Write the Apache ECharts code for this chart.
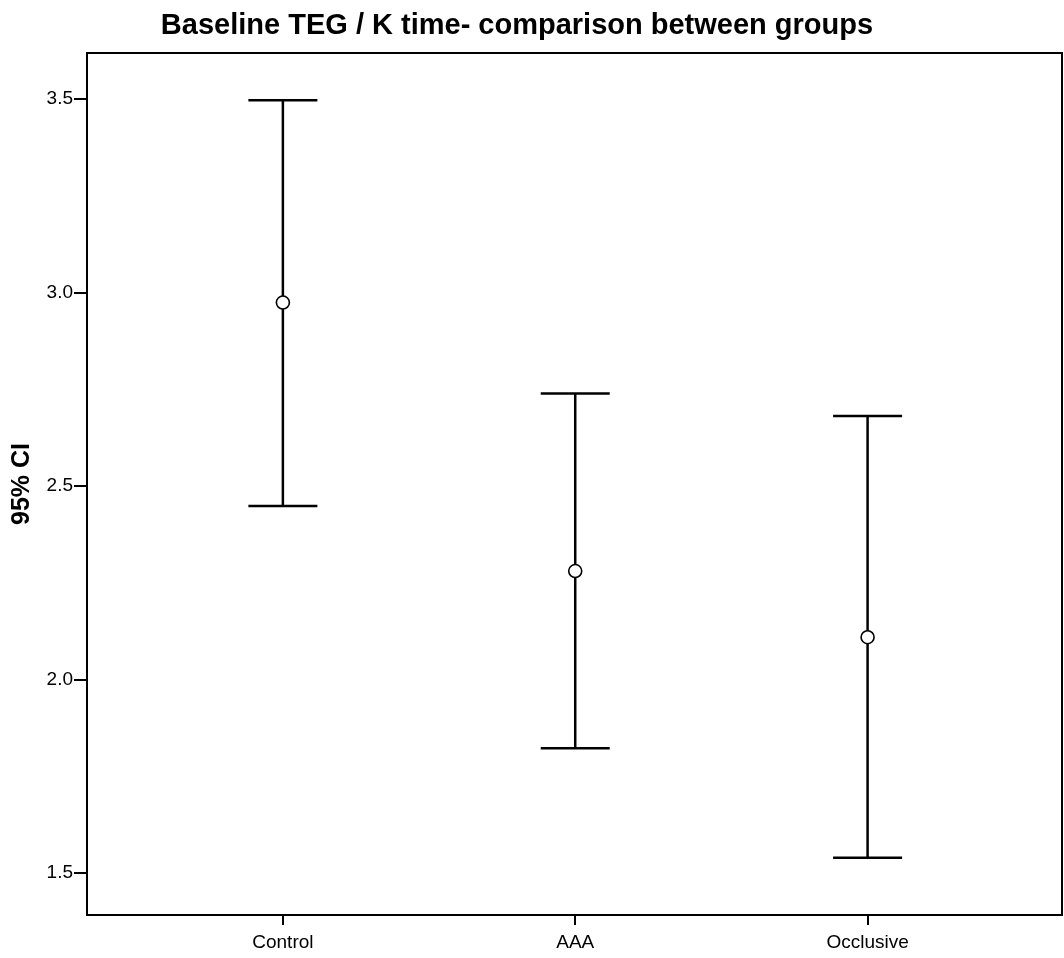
<!DOCTYPE html>
<html>
<head>
<meta charset="utf-8">
<script src="https://cdn.jsdelivr.net/npm/echarts@6/dist/echarts.min.js"></script>
<style>html,body{margin:0;padding:0;background:#fff}#c{width:1064px;height:958px}</style>
</head>
<body>
<div id="c"></div>
<script>
const categories = ['Control', 'AAA', 'Occlusive'];
const means = [2.974, 2.280, 2.109];
const lower = [2.448, 1.822, 1.539];
const upper = [3.497, 2.739, 2.681];
const yTicks = [1.5, 2.0, 2.5, 3.0, 3.5];

const chart = echarts.init(document.getElementById('c'));
const positions = categories.map((c, i) => i + 1);
const barData = categories.map((c, i) => [positions[i], lower[i], upper[i]]);
const meanData = categories.map((c, i) => [positions[i], means[i]]);
const font = 'Liberation Sans, Arial, sans-serif';

chart.setOption({
  animation: false,
  backgroundColor: '#fff',
  title: {
    text: 'Baseline TEG / K time- comparison between groups',
    left: 512, top: 6, textAlign: 'center',
    textStyle: { fontFamily: font, fontSize: 29, fontWeight: 'bold', color: '#000' }
  },
  grid: { left: 87, right: 2, top: 53, bottom: 43, show: true, borderColor: '#000', borderWidth: 2, backgroundColor: 'transparent' },
  xAxis: {
    type: 'value', min: 0.33, max: 3.665,
    splitLine: { show: false },
    axisLine: { show: true, lineStyle: { color: '#000', width: 2 } },
    axisTick: { show: true, inside: false, length: 10, lineStyle: { color: '#000', width: 2 }, customValues: positions },
    axisLabel: { customValues: positions, formatter: v => categories[Math.round(v) - 1] || '', fontFamily: font, fontSize: 19, color: '#000', margin: 18 }
  },
  yAxis: {
    type: 'value', min: 1.391, max: 3.619,
    name: '95% CI', nameLocation: 'middle', nameGap: 52,
    nameTextStyle: { fontFamily: font, fontSize: 25, fontWeight: 'bold', color: '#000' },
    splitLine: { show: false },
    axisLine: { show: true, lineStyle: { color: '#000', width: 2 } },
    axisTick: { show: true, length: 13, lineStyle: { color: '#000', width: 2 }, customValues: yTicks },
    axisLabel: { customValues: yTicks, formatter: v => v.toFixed(1), fontFamily: font, fontSize: 19, color: '#000', margin: 14 }
  },
  series: [
    {
      type: 'custom',
      data: barData,
      renderItem: function (params, api) {
        const x = api.value(0);
        const lo = api.coord([x, api.value(1)]);
        const hi = api.coord([x, api.value(2)]);
        const half = 34.5;
        const style = { stroke: '#000', lineWidth: 2.5 };
        return {
          type: 'group',
          children: [
            { type: 'line', shape: { x1: lo[0], y1: lo[1], x2: hi[0], y2: hi[1] }, style: style },
            { type: 'line', shape: { x1: lo[0] - half, y1: lo[1], x2: lo[0] + half, y2: lo[1] }, style: style },
            { type: 'line', shape: { x1: hi[0] - half, y1: hi[1], x2: hi[0] + half, y2: hi[1] }, style: style }
          ]
        };
      },
      z: 2
    },
    {
      type: 'scatter',
      data: meanData,
      symbol: 'circle', symbolSize: 13,
      itemStyle: { color: '#fff', borderColor: '#000', borderWidth: 1.6, opacity: 1 },
      emphasis: { disabled: true },
      z: 3
    }
  ]
});
</script>
</body>
</html>
